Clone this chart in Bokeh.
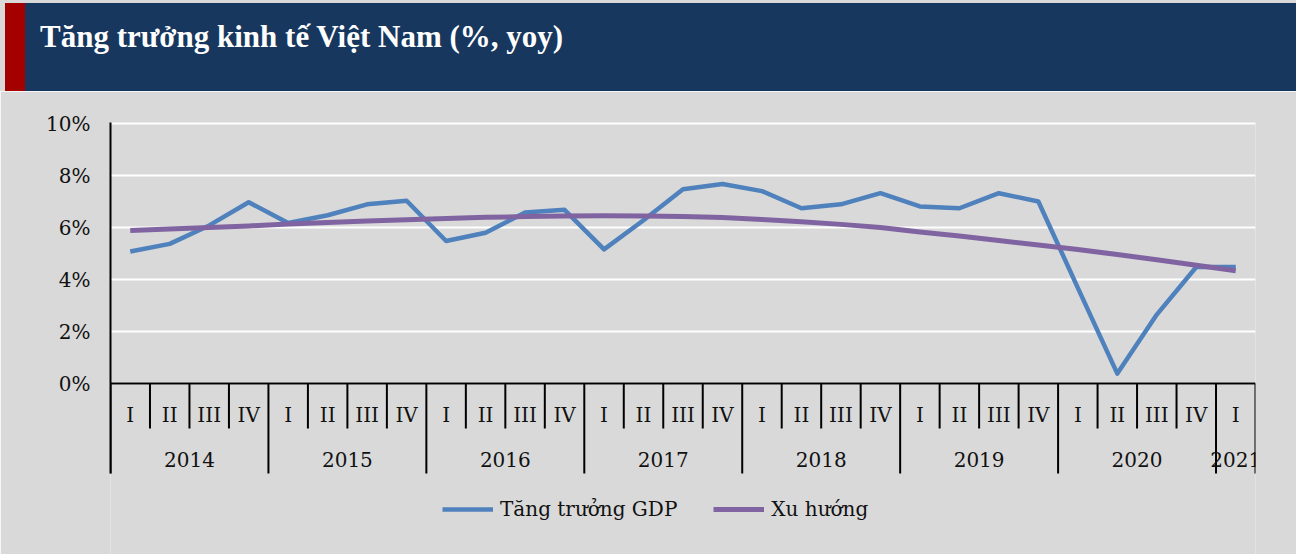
from bokeh.plotting import figure
from bokeh.models import Range1d, FixedTicker, PrintfTickFormatter, Span, Legend, LegendItem, Div
from bokeh.layouts import column
from bokeh.embed import file_html
from bokeh.resources import INLINE
from bokeh.core.properties import value

# ---- data ----
years = ["2014"] * 4 + ["2015"] * 4 + ["2016"] * 4 + ["2017"] * 4 + \
        ["2018"] * 4 + ["2019"] * 4 + ["2020"] * 4 + ["2021"]
quarters = ["I", "II", "III", "IV"] * 7 + ["I"]
gdp = [5.08, 5.37, 6.08, 6.97,
       6.17, 6.47, 6.89, 7.03,
       5.48, 5.80, 6.58, 6.68,
       5.16, 6.28, 7.47, 7.67,
       7.40, 6.74, 6.89, 7.32,
       6.81, 6.74, 7.32, 7.00,
       3.68, 0.38, 2.65, 4.48,
       4.48]
trend = [5.88, 5.94, 6.00, 6.06,
         6.13, 6.19, 6.25, 6.30,
         6.35, 6.39, 6.42, 6.44,
         6.45, 6.44, 6.42, 6.38,
         6.31, 6.22, 6.12, 6.00,
         5.83, 5.67, 5.50, 5.33,
         5.15, 4.96, 4.76, 4.55,
         4.34]
y_ticks = [0, 2, 4, 6, 8, 10]
title_text = "Tăng trưởng kinh tế Việt Nam (%, yoy)"
series_names = ["Tăng trưởng GDP", "Xu hướng"]

# ---- styles ----
BG = "#D9D9D9"
NAVY = "#17375E"
RED = "#A50000"
BLUE = "#4F81BD"
PURPLE = "#8064A2"
FONT = "DejaVu Serif"
INK = "#111111"

# ---- title band ----
title = Div(text=title_text, width=1296, height=91,
            styles={
                "background": f"linear-gradient(to right, {BG} 0px, {BG} 5px, {RED} 5px, {RED} 25px, {NAVY} 25px)",
                "border-top": f"3px solid {BG}",
                "box-sizing": "border-box",
                "color": "white",
                "font-family": "'Liberation Serif'",
                "font-weight": "bold",
                "font-size": "31px",
                "line-height": "34px",
                "padding-left": "40px",
                "padding-top": "17px",
                "margin": "0px",
            })

# ---- main chart ----
n = len(quarters)
xs = [i + 0.5 for i in range(n)]

PX = 26.0                 # pixels per percentage point
Y_TOP = 10 + 1 / PX
CAT_BOTTOM = -90 / PX     # bottom of the category band
FRAME_H = 432
Y_BOTTOM = Y_TOP - FRAME_H / PX

p = figure(frame_width=1145, frame_height=FRAME_H,
           x_range=Range1d(0, n), y_range=Range1d(Y_BOTTOM, Y_TOP),
           min_border_left=110, min_border_right=41, min_border_top=31, min_border_bottom=0,
           x_axis_location=None, toolbar_location=None, output_backend="svg",
           background_fill_color=BG, border_fill_color=BG, outline_line_color=None)

p.xgrid.visible = False
p.ygrid.ticker = FixedTicker(ticks=y_ticks)
p.ygrid.grid_line_color = "white"
p.ygrid.grid_line_width = 2

yax = p.yaxis[0]
yax.ticker = FixedTicker(ticks=y_ticks)
yax.formatter = PrintfTickFormatter(format="%d%%")
yax.bounds = (CAT_BOTTOM, Y_TOP)
yax.axis_line_color = "black"
yax.axis_line_width = 2
yax.major_tick_out = 0
yax.major_tick_in = 0
yax.minor_tick_out = 0
yax.minor_tick_in = 0
yax.major_label_standoff = 20
yax.major_label_text_font = FONT
yax.major_label_text_font_size = "20px"
yax.major_label_text_color = INK

# zero line
p.add_layout(Span(location=0, dimension="width", line_color="black", line_width=2))

# category separators
q_bounds = [i for i in range(1, n) if years[i] == years[i - 1]]
y_bounds = [i for i in range(n) if i == 0 or years[i] != years[i - 1]] + [n]
p.segment(x0=q_bounds, y0=[0] * len(q_bounds), x1=q_bounds, y1=[-45 / PX] * len(q_bounds),
          line_color="black", line_width=2)
p.segment(x0=y_bounds, y0=[0] * len(y_bounds), x1=y_bounds, y1=[CAT_BOTTOM] * len(y_bounds),
          line_color="black", line_width=2)

# quarter labels
p.text(x=xs, y=[0] * n, text=quarters, y_offset=31, text_align="center",
       text_baseline="middle", text_font=value(FONT), text_font_size="20px", text_color=INK)

# year labels
uniq = []
for yv in years:
    if yv not in uniq:
        uniq.append(yv)
year_x = [sum(x for x, yy in zip(xs, years) if yy == u) / years.count(u) for u in uniq]
p.text(x=year_x, y=[0] * len(uniq), text=uniq, y_offset=76, text_align="center",
       text_baseline="middle", text_font=value(FONT), text_font_size="20px", text_color=INK)

# series
r1 = p.line(xs, gdp, line_color=BLUE, line_width=4.5, line_join="round")
r2 = p.line(xs, trend, line_color=PURPLE, line_width=5, line_join="round")

legend = Legend(items=[LegendItem(label=series_names[0], renderers=[r1]),
                       LegendItem(label=series_names[1], renderers=[r2])],
                orientation="horizontal", location=(332, 33),
                glyph_width=51, glyph_height=20, label_standoff=7, spacing=36,
                padding=0, margin=0, border_line_color=None, background_fill_alpha=0,
                label_text_font=FONT, label_text_font_size="20px", label_text_color=INK)
p.add_layout(legend, "center")

layout = column(title, p, spacing=0)
open("out.html", "w").write(file_html(layout, INLINE))
